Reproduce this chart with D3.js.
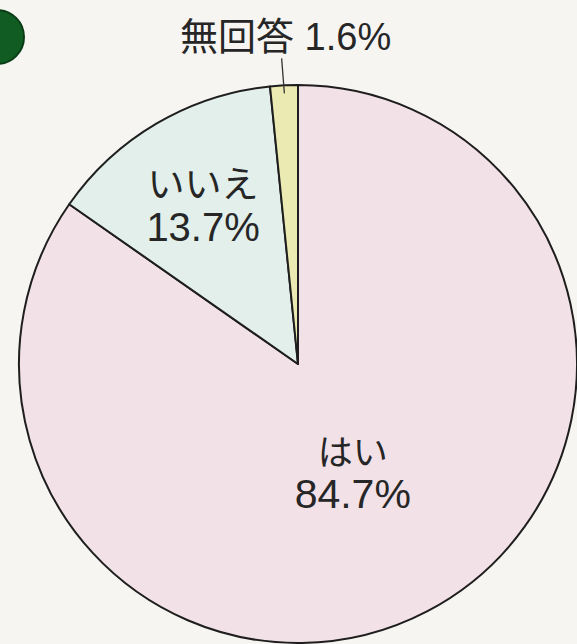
<!DOCTYPE html>
<html>
<head>
<meta charset="utf-8">
<script src="https://cdn.jsdelivr.net/npm/d3@7"></script>
<style>
  html, body { margin: 0; padding: 0; background: #f6f5f2; }
  svg { display: block; }
  text { font-family: "Liberation Sans", Arial, "Noto Sans CJK JP", sans-serif; fill: #262626; }
</style>
</head>
<body>
<svg id="chart" width="577" height="644"></svg>
<script>
// Survey answers, in drawing order (clockwise from 12 o'clock)
const categories = ["はい", "いいえ", "無回答"];
const values = [84.7, 13.7, 1.6];
const colors = ["#f3e1e8", "#e2efea", "#ebeab2"];

const W = 577, H = 644;
const cx = 298, cy = 364, R = 279;

const svg = d3.select("#chart");

// green bullet in the corner
svg.append("circle")
  .attr("cx", -3).attr("cy", 37).attr("r", 27)
  .attr("fill", "#115c22").attr("stroke", "#0a3d15").attr("stroke-width", 2);

const pie = d3.pie().sort(null).value(d => d)(values);
const arc = d3.arc().innerRadius(0).outerRadius(R);

const g = svg.append("g").attr("transform", `translate(${cx},${cy})`);

g.selectAll("path.slice")
  .data(pie)
  .join("path")
  .attr("class", "slice")
  .attr("d", arc)
  .attr("fill", (d, i) => colors[i])
  .attr("stroke", "#1e1e1e")
  .attr("stroke-width", 2)
  .attr("stroke-linejoin", "round");

// labels inside the two large slices: polar placement (angle offset from mid, radius)
const inner = [
  { i: 0, angle: 0.035, radius: 127, jp: 35, num: 41 },
  { i: 1, angle: -0.028, radius: 179, jp: 37, num: 40 }
];
inner.forEach(p => {
  const d = pie[p.i];
  const a = (d.startAngle + d.endAngle) / 2 + p.angle;
  const x = Math.sin(a) * p.radius;
  const y = -Math.cos(a) * p.radius;
  g.append("text").attr("text-anchor", "middle")
    .attr("x", x).attr("y", y - 14)
    .style("font-family", "'Noto Sans CJK JP', sans-serif")
    .style("font-size", p.jp + "px")
    .text(categories[p.i]);
  g.append("text").attr("text-anchor", "middle")
    .attr("x", x).attr("y", y + 29)
    .style("font-size", p.num + "px")
    .text(values[p.i].toFixed(1) + "%");
});

// outside label with a leader line for the thin slice
const thin = pie[2];
const mid = (thin.startAngle + thin.endAngle) / 2;
const lineIn = R - 8, lineOut = R + 27;
g.append("line")
  .attr("x1", Math.sin(mid) * lineIn).attr("y1", -Math.cos(mid) * lineIn)
  .attr("x2", Math.sin(mid) * lineOut - 1).attr("y2", -Math.cos(mid) * lineOut)
  .attr("stroke", "#333").attr("stroke-width", 1.3);

const lab = g.append("text")
  .attr("x", Math.sin(mid) * lineOut + 3)
  .attr("y", -Math.cos(mid) * lineOut - 8)
  .attr("text-anchor", "middle");
lab.append("tspan")
  .style("font-family", "'Noto Sans CJK JP', sans-serif")
  .style("font-size", "38px")
  .text(categories[2]);
lab.append("tspan")
  .style("font-size", "38px")
  .text(" " + values[2].toFixed(1) + "%");
</script>
</body>
</html>
